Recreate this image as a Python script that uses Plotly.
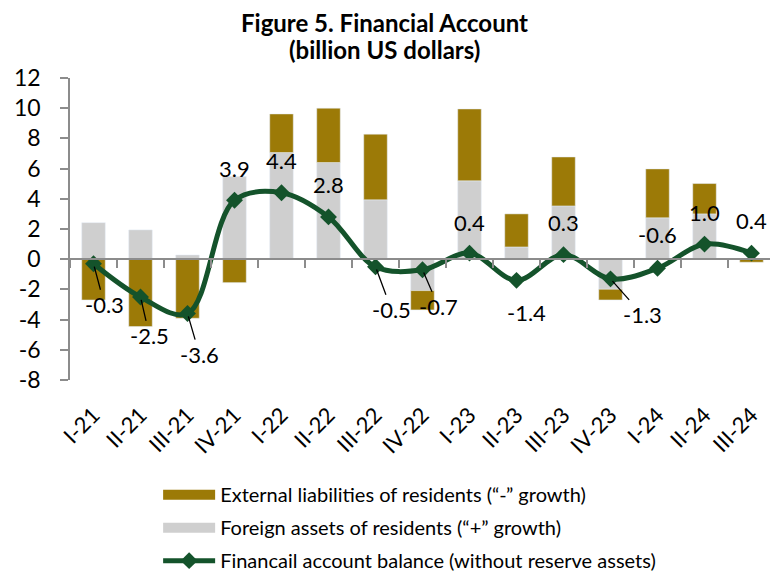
import plotly.graph_objects as go

categories = ["I-21", "II-21", "III-21", "IV-21", "I-22", "II-22", "III-22", "IV-22",
              "I-23", "II-23", "III-23", "IV-23", "I-24", "II-24", "III-24"]
foreign_assets = [2.42, 1.94, 0.28, 5.47, 7.06, 6.40, 3.93, -2.08, 5.19, 0.81, 3.53, -1.99, 2.74, 3.00, 0.05]
external_liabilities = [-2.70, -4.46, -3.91, -1.55, 2.56, 3.60, 4.35, -1.28, 4.76, 2.19, 3.24, -0.71, 3.24, 2.01, -0.20]
balance = [-0.3, -2.5, -3.6, 3.9, 4.4, 2.8, -0.5, -0.7, 0.4, -1.4, 0.3, -1.3, -0.6, 1.0, 0.4]
y_ticks = [-8, -6, -4, -2, 0, 2, 4, 6, 8, 10, 12]
y_tick_text = ["-8", "-6", "-4", "-2", "0", "2", "4", "6", "8", "10", "12"]

name_liab = "External liabilities of residents (\u201c-\u201d growth)"
name_assets = "Foreign assets of residents (\u201c+\u201d growth)"
name_balance = "Financail account balance (without reserve assets)"

# label placement (pixel offsets from the point; leader line flag)
label_dx = [11, 9, 12, 0, 0, 0, 16, 16, 0, 10, 0, 32, 0, 0, 0]
label_dy = [41, 39, 41, -32, -32, -32, 43, 37, -31, 32, -32, 36, -34, -32, -33]
leader = [True, True, True, False, False, False, True, True, False, False, False, True, False, False, False]

GOLD = "#9C7A07"
GREY = "#CFCFCF"
GREEN = "#14532B"
FONT = "Lato"

fig = go.Figure()
fig.add_trace(go.Bar(x=categories, y=foreign_assets, name=name_assets,
                     marker=dict(color=GREY), width=0.5, showlegend=False))
fig.add_trace(go.Bar(x=categories, y=external_liabilities, name=name_liab,
                     marker=dict(color=GOLD), width=0.5, showlegend=False))
fig.add_trace(go.Scatter(x=categories, y=balance, mode="lines+markers", name=name_balance,
                         line=dict(color=GREEN, width=5, shape="spline", smoothing=1.0),
                         marker=dict(symbol="diamond", size=13, color=GREEN),
                         legendrank=3, legendgroup="c"))
# legend swatches for the bar series
fig.add_trace(go.Scatter(x=[None], y=[None], mode="lines", name=name_liab,
                         line=dict(color=GOLD, width=12), legendrank=1, legendgroup="a"))
fig.add_trace(go.Scatter(x=[None], y=[None], mode="lines", name=name_assets,
                         line=dict(color=GREY, width=12), legendrank=2, legendgroup="b"))
# invisible helper trace for the zero-line axis with ticks
fig.add_trace(go.Scatter(x=categories, y=balance, xaxis="x2", mode="markers",
                         marker=dict(opacity=0), showlegend=False, hoverinfo="skip"))

annotations = []
for c, v, dx, dy, ld in zip(categories, balance, label_dx, label_dy, leader):
    txt = f"{v:.1f}"
    if ld:
        annotations.append(dict(x=c, y=v, xref="x", yref="y", text=txt, showarrow=True,
                                ax=dx, ay=dy, arrowhead=0, arrowwidth=1.3, arrowcolor="black",
                                standoff=3, font=dict(size=22, color="black", family=FONT)))
    else:
        annotations.append(dict(x=c, y=v, xref="x", yref="y", text=txt, showarrow=False,
                                xshift=dx, yshift=-dy, font=dict(size=22, color="black", family=FONT)))

annotations.append(dict(text="<b>Figure 5. Financial Account</b>", xref="paper", yref="paper",
                        x=0.446, y=1.185, xanchor="center", yanchor="middle", showarrow=False,
                        font=dict(size=24, family=FONT, color="black")))
annotations.append(dict(text="<b>(billion US dollars)</b>", xref="paper", yref="paper",
                        x=0.446, y=1.096, xanchor="center", yanchor="middle", showarrow=False,
                        font=dict(size=24, family=FONT, color="black")))

fig.update_layout(
    width=770, height=567,
    margin=dict(l=62, r=3, t=70, b=195, autoexpand=False),
    paper_bgcolor="white", plot_bgcolor="white",
    barmode="relative",
    font=dict(family=FONT, color="black"),
    showlegend=True,
    legend=dict(x=0.125, xanchor="left", y=-0.315, yanchor="top", orientation="v",
                font=dict(size=20, family=FONT), itemwidth=52, bgcolor="rgba(0,0,0,0)",
                traceorder="grouped", tracegroupgap=4),
    annotations=annotations,
    xaxis=dict(type="category", categoryorder="array", categoryarray=categories,
               range=[-0.5, 14.5], showline=False, ticks="", showgrid=False, zeroline=False,
               tickangle=-45, tickfont=dict(size=22, family=FONT), ticklabelstandoff=17),
    xaxis2=dict(type="category", categoryorder="array", categoryarray=categories,
                range=[-0.5, 14.5], overlaying="x", anchor="free", position=0.4,
                showline=True, linecolor="#8C8C8C", linewidth=1.5,
                ticks="outside", tickson="boundaries", ticklen=8, tickcolor="#8C8C8C", tickwidth=1.5,
                showticklabels=False, showgrid=False, zeroline=False),
    yaxis=dict(range=[-8, 12], tickvals=y_ticks, ticktext=y_tick_text, showgrid=False, zeroline=False,
               showline=True, linecolor="#8C8C8C", linewidth=1.5,
               ticks="outside", ticklen=8, tickcolor="#8C8C8C", tickwidth=1.5,
               tickfont=dict(size=23, family=FONT), ticklabelstandoff=15),
)

fig.write_html("out.html")
